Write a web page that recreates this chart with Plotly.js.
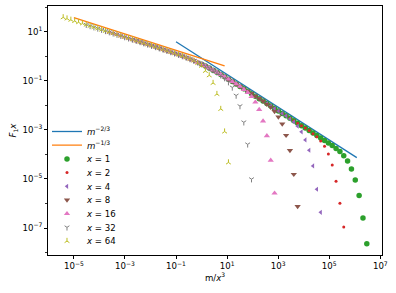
<!DOCTYPE html>
<html><head><meta charset="utf-8">
<script src="https://cdn.plot.ly/plotly-3.0.1.min.js"></script>
<style>html,body{margin:0;padding:0;background:#fff}#chart{width:396px;height:293px}</style>
</head><body><div id="chart"></div>
<script>
// m/x^3 grid (factor sqrt(2) between points)
const uGrid = [3.815e-6, 5.394e-6, 7.629e-6, 1.079e-5, 1.526e-5, 2.158e-5, 3.052e-5, 4.316e-5, 6.104e-5, 8.632e-5,
  1.221e-4, 1.726e-4, 2.441e-4, 3.453e-4, 4.883e-4, 6.905e-4, 9.766e-4, 1.381e-3, 1.953e-3, 2.762e-3,
  3.906e-3, 5.524e-3, 7.813e-3, 1.105e-2, 1.563e-2, 2.210e-2, 3.125e-2, 4.419e-2, 0.0625, 0.08839,
  0.125, 0.1768, 0.25, 0.3536, 0.5, 0.7071, 1, 1.414, 2, 2.828,
  4, 5.657, 8, 11.31, 16, 22.63, 32, 45.25, 64, 90.51,
  128, 181.0, 256, 362.0, 512, 724.1, 1024, 1448, 2048, 2896,
  4096, 5793, 8192, 11585, 16384, 23170, 32768, 46341, 65536, 92682,
  131072, 185364, 262144, 370728, 524288, 741455, 1048576, 1482910, 2097152, 2965821];
// collapsed curve F1*x shared by all x before their cut-off
const collapsed = [38.6, 34.4, 30.6, 27.3, 24.3, 21.6, 19.3, 17.2, 15.3, 13.6,
  12.1, 10.8, 9.64, 8.59, 7.65, 6.82, 6.07, 5.41, 4.82, 4.30,
  3.83, 3.41, 3.03, 2.70, 2.40, 2.13, 1.89, 1.68, 1.49, 1.315,
  1.159, 1.017, 0.888, 0.770, 0.663, 0.566, 0.478, 0.400, 0.332, 0.272,
  0.222, 0.180, 0.145, 0.116, 0.0930, 0.0743, 0.0592, 0.0471, 0.0375, 0.0298,
  0.0237, 0.0188, 0.0149, 0.0119, 0.00941, 0.00747, 5.93e-3, 4.71e-3, 3.74e-3, 2.96e-3,
  2.35e-3, 1.87e-3, 1.48e-3, 1.18e-3, 9.34e-4, 7.41e-4, 5.88e-4, 4.67e-4, 3.71e-4, 2.94e-4, 2.33e-4];
// cut-off tails (last 9 points of each series)
const tail1  = [1.73e-4, 1.31e-4, 8.85e-5, 5.37e-5, 2.57e-5, 9.12e-6, 2.14e-6, 2.57e-7, 2.29e-8];
const tail2  = [6.92e-4, 5.24e-4, 3.55e-4, 2.14e-4, 1.05e-4, 3.72e-5, 8.13e-6, 1.02e-6, 1.10e-7];
const tail4  = [2.77e-3, 2.10e-3, 1.42e-3, 8.32e-4, 3.89e-4, 1.48e-4, 3.39e-5, 3.80e-6, 4.37e-7];
const tail8  = [0.01107, 8.38e-3, 5.66e-3, 3.39e-3, 1.74e-3, 6.03e-4, 1.45e-4, 1.55e-5, 7.59e-7];
const tail16 = [0.0440, 0.0334, 0.0226, 0.0135, 6.76e-3, 2.29e-3, 5.75e-4, 5.75e-5, 2.63e-6];
const tail32 = [0.168, 0.129, 0.0881, 0.0537, 0.0251, 9.33e-3, 2.04e-3, 2.57e-4, 9.77e-6];
const tail64 = [0.525, 0.407, 0.251, 0.166, 0.0813, 0.0288, 7.08e-3, 8.51e-4, 4.68e-5];
const xValues = [1, 2, 4, 8, 16, 32, 64];
const firstIndex = [36, 30, 24, 18, 12, 6, 0];   // index of m=1 in uGrid
const tails = [tail1, tail2, tail4, tail8, tail16, tail32, tail64];
const nPoints = 44, nCollapsed = 35;
// reference power laws
const lineX23 = [0.1, 1.2e6], lineY23 = [3.9, 7.4e-5];
const lineX13 = [1e-5, 8], lineY13 = [37.6, 0.405];
// tick labels
const xTickVals = [1e-5, 1e-3, 1e-1, 1e1, 1e3, 1e5, 1e7];
const xTickText = ['10<sup>−5</sup>', '10<sup>−3</sup>', '10<sup>−1</sup>', '10<sup>1</sup>', '10<sup>3</sup>', '10<sup>5</sup>', '10<sup>7</sup>'];
const yTickVals = [1e1, 1e-1, 1e-3, 1e-5, 1e-7];
const yTickText = ['10<sup>1</sup>', '10<sup>−1</sup>', '10<sup>−3</sup>', '10<sup>−5</sup>', '10<sup>−7</sup>'];
const yMinorVals = [1e2, 1e0, 1e-2, 1e-4, 1e-6, 1e-8];

const colors = ['#2ca02c', '#d62728', '#9467bd', '#8c564b', '#e377c2', '#7f7f7f', '#bcbd22'];
const symbols = ['circle', 'circle', 'triangle-left', 'triangle-down', 'triangle-up', 'y-down', 'y-up'];
const sizes = [5.5, 3, 4.5, 5.5, 5.5, 4, 4];

const FONT = 'DejaVu Sans, sans-serif';
const legendY = [0.496, 0.441, 0.386, 0.331, 0.276, 0.221, 0.166, 0.111, 0.056];
const traces = [
  {x: lineX23, y: lineY23, mode: 'lines', line: {color: '#1f77b4', width: 1.3}, name: '<i>m</i><sup>−2/3</sup>', legend: 'legend'},
  {x: lineX13, y: lineY13, mode: 'lines', line: {color: '#ff7f0e', width: 1.3}, name: '<i>m</i><sup>−1/3</sup>', legend: 'legend2'}
];
xValues.forEach((xv, i) => {
  const s = firstIndex[i];
  const xs = uGrid.slice(s, s + nPoints);
  const ys = collapsed.slice(s, s + nCollapsed).concat(tails[i]);
  const isLine = symbols[i].startsWith('y-');
  traces.push({
    x: xs, y: ys, mode: 'markers', name: '<i>x</i> = ' + xv, legend: 'legend' + (i + 3),
    marker: {symbol: symbols[i], size: sizes[i], color: colors[i],
      line: isLine ? {color: colors[i], width: 1} : {width: 0}}
  });
});

const axisCommon = {
  type: 'log', tickmode: 'array',
  showline: true, mirror: true, linecolor: '#000', linewidth: 1,
  ticks: 'outside', ticklen: 3, tickwidth: 1, tickcolor: '#000',
  showgrid: false, zeroline: false,
  tickfont: {family: FONT, size: 8.6, color: '#000'}
};
const layout = {
  width: 396, height: 293,
  margin: {l: 48, r: 14, t: 6, b: 38},
  paper_bgcolor: '#fff', plot_bgcolor: '#fff',
  font: {family: FONT, size: 8.6, color: '#000'},
  showlegend: true,
  xaxis: Object.assign({}, axisCommon, {range: [-6.013, 7.067], tickvals: xTickVals, ticktext: xTickText,
    title: {text: 'm/<i>x</i><sup>3</sup>', font: {family: FONT, size: 8.6}, standoff: 4}}),
  yaxis: Object.assign({}, axisCommon, {range: [-8.10, 2.05], tickvals: yTickVals, ticktext: yTickText,
    minor: {tickmode: 'array', tickvals: yMinorVals, ticks: 'outside', ticklen: 2, tickwidth: 0.8, tickcolor: '#000', showgrid: false},
    title: {text: '<i>F</i><sub>1</sub><i>x</i>', font: {family: FONT, size: 8.6}, standoff: 4}})
};
legendY.forEach((y, i) => {
  const key = i === 0 ? 'legend' : 'legend' + (i + 1);
  layout[key] = {x: -0.003, y: y, xanchor: 'left', yanchor: 'middle', bgcolor: 'rgba(0,0,0,0)',
    borderwidth: 0, font: {family: FONT, size: 8.6, color: '#000'}, itemwidth: 30};
});
Plotly.newPlot('chart', traces, layout, {displayModeBar: false, staticPlot: true});
</script></body></html>
